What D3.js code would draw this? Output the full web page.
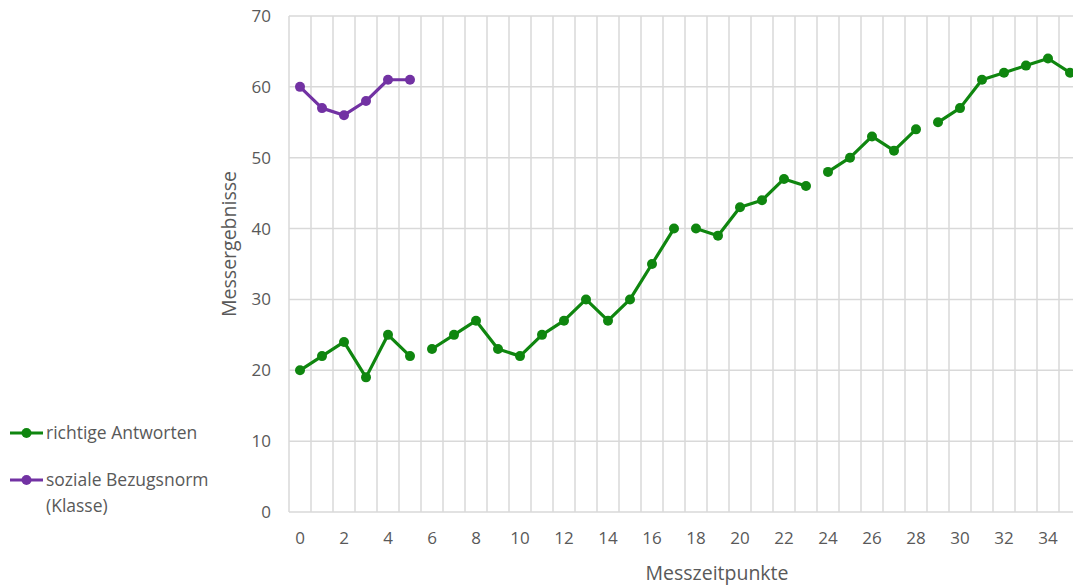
<!DOCTYPE html>
<html>
<head>
<meta charset="utf-8">
<script src="https://cdn.jsdelivr.net/npm/d3@7"></script>
<style>
  body { margin: 0; background: #fff; }
  svg { display: block; font-family: 'Open Sans', sans-serif; }
</style>
</head>
<body>
<svg id="chart" width="1073" height="585"></svg>
<script>
  // measurement points 0..35 (the chart is cropped on the right)
  var categories = d3.range(0, 36);
  var yTicks = [0, 10, 20, 30, 40, 50, 60, 70];
  var xTickLabels = d3.range(0, 35, 2);

  // richtige Antworten, split where the line is broken
  var correctAnswers = [20, 22, 24, 19, 25, 22, 23, 25, 27, 23, 22, 25, 27, 30, 27, 30, 35, 40,
                        40, 39, 43, 44, 47, 46, 48, 50, 53, 51, 54, 55, 57, 61, 62, 63, 64, 62];
  var segmentStarts = [0, 6, 18, 24, 29];

  // soziale Bezugsnorm (Klasse)
  var classNorm = [60, 57, 56, 58, 61, 61];

  var green = '#0f860f';
  var purple = '#7232a3';
  var gridColor = '#d9d9d9';
  var textColor = '#595959';

  var svg = d3.select('#chart');

  var x = d3.scaleBand()
    .domain(categories)
    .range([289, 289 + 22 * categories.length]);
  var y = d3.scaleLinear()
    .domain([0, 70])
    .range([512, 16]);

  var plotRight = x.range()[1];

  // horizontal grid
  svg.append('g').selectAll('line')
    .data(yTicks)
    .enter().append('line')
      .attr('x1', 289).attr('x2', plotRight)
      .attr('y1', function(d) { return y(d); })
      .attr('y2', function(d) { return y(d); })
      .attr('stroke', gridColor)
      .attr('stroke-width', 1.5);

  // vertical grid on category boundaries
  svg.append('g').selectAll('line')
    .data(categories)
    .enter().append('line')
      .attr('x1', function(d) { return x(d); })
      .attr('x2', function(d) { return x(d); })
      .attr('y1', y(70)).attr('y2', y(0))
      .attr('stroke', gridColor)
      .attr('stroke-width', 1.5);

  // y labels
  svg.append('g').selectAll('text')
    .data(yTicks)
    .enter().append('text')
      .attr('x', 271)
      .attr('y', function(d) { return y(d); })
      .attr('dy', '0.35em')
      .attr('text-anchor', 'end')
      .attr('font-size', '17px')
      .attr('fill', textColor)
      .text(function(d) { return d; });

  // x labels
  svg.append('g').selectAll('text')
    .data(xTickLabels)
    .enter().append('text')
      .attr('x', function(d) { return x(d) + x.bandwidth() / 2; })
      .attr('y', 538)
      .attr('dy', '0.35em')
      .attr('text-anchor', 'middle')
      .attr('font-size', '17px')
      .attr('fill', textColor)
      .text(function(d) { return d; });

  // axis titles
  svg.append('text')
    .attr('x', 717).attr('y', 573)
    .attr('dy', '0.35em')
    .attr('text-anchor', 'middle')
    .attr('font-size', '19.5px')
    .attr('fill', textColor)
    .text('Messzeitpunkte');

  svg.append('text')
    .attr('transform', 'translate(229,244) rotate(-90)')
    .attr('dy', '0.35em')
    .attr('text-anchor', 'middle')
    .attr('font-size', '19.5px')
    .attr('fill', textColor)
    .text('Messergebnisse');

  var line = d3.line()
    .x(function(d) { return x(d.i) + x.bandwidth() / 2; })
    .y(function(d) { return y(d.v); });

  function drawSeries(values, starts, color) {
    var pts = values.map(function(v, i) { return { i: i, v: v }; });
    var g = svg.append('g');
    starts.forEach(function(s, k) {
      var end = k + 1 < starts.length ? starts[k + 1] : pts.length;
      g.append('path')
        .datum(pts.slice(s, end))
        .attr('d', line)
        .attr('fill', 'none')
        .attr('stroke', color)
        .attr('stroke-width', 3.2)
        .attr('stroke-linejoin', 'round');
    });
    g.selectAll('circle')
      .data(pts)
      .enter().append('circle')
        .attr('cx', function(d) { return x(d.i) + x.bandwidth() / 2; })
        .attr('cy', function(d) { return y(d.v); })
        .attr('r', 5)
        .attr('fill', color);
  }

  drawSeries(correctAnswers, segmentStarts, green);
  drawSeries(classNorm, [0], purple);

  // legend
  var legend = [
    { label: ['richtige Antworten'], color: green, y: 433 },
    { label: ['soziale Bezugsnorm', '(Klasse)'], color: purple, y: 480 }
  ];
  var lg = svg.append('g').selectAll('g')
    .data(legend)
    .enter().append('g');
  lg.append('line')
    .attr('x1', 10).attr('x2', 43)
    .attr('y1', function(d) { return d.y; })
    .attr('y2', function(d) { return d.y; })
    .attr('stroke', function(d) { return d.color; })
    .attr('stroke-width', 3.2);
  lg.append('circle')
    .attr('cx', 26.5)
    .attr('cy', function(d) { return d.y; })
    .attr('r', 5)
    .attr('fill', function(d) { return d.color; });
  lg.append('text')
    .attr('y', function(d) { return d.y; })
    .attr('font-size', '17.5px')
    .attr('fill', textColor)
    .selectAll('tspan')
    .data(function(d) { return d.label; })
    .enter().append('tspan')
      .attr('x', 46)
      .attr('dy', function(d, i) { return i === 0 ? '0.35em' : 26; })
      .text(function(d) { return d; });
</script>
</body>
</html>
